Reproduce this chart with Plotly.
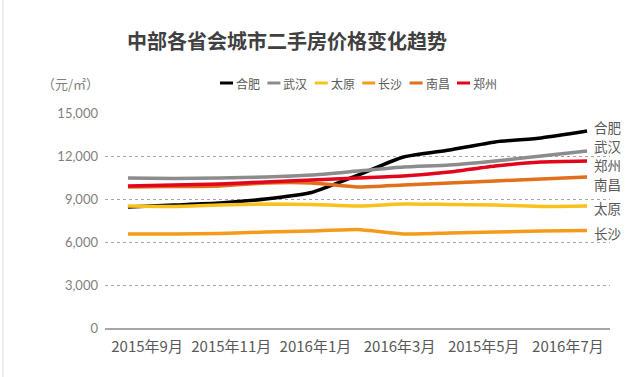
import plotly.graph_objects as go

# ---- data ----
months = ["2015年9月", "2015年10月", "2015年11月", "2015年12月", "2016年1月", "2016年2月",
          "2016年3月", "2016年4月", "2016年5月", "2016年6月", "2016年7月"]
tick_labels = ["2015年9月", "2015年11月", "2016年1月", "2016年3月", "2015年5月", "2016年7月"]

hefei   = [8440, 8580, 8720, 9000, 9450, 10650, 11930, 12420, 12980, 13260, 13740]
wuhan   = [10470, 10430, 10470, 10530, 10670, 10950, 11230, 11370, 11650, 12000, 12350]
taiyuan = [8510, 8480, 8580, 8650, 8620, 8510, 8650, 8620, 8580, 8480, 8510]
changsha = [6560, 6560, 6590, 6700, 6770, 6870, 6560, 6630, 6700, 6770, 6800]
nanchang = [9840, 9870, 9910, 10120, 10120, 9840, 9980, 10120, 10260, 10400, 10540]
zhengzhou = [9910, 9980, 10050, 10190, 10330, 10470, 10600, 10880, 11300, 11580, 11650]

series = [
    ("合肥", hefei, "#000000"),
    ("武汉", wuhan, "#8C8C8C"),
    ("太原", taiyuan, "#F8C21C"),
    ("长沙", changsha, "#F59B1B"),
    ("南昌", nanchang, "#E0701A"),
    ("郑州", zhengzhou, "#E3051B"),
]
label_shift = {"合肥": 4, "武汉": 5, "太原": -2, "长沙": -2, "南昌": -7, "郑州": -4}

CJK = "Noto Sans CJK SC"
W, H = 638, 377
ML, MR, MT, MB = 105, 28, 113, 49
PW, PH = W - ML - MR, H - MT - MB

def px_x(p):
    return (p - ML) / PW

def px_y(p):
    return (H - MB - p) / PH

n = len(months)
xs = list(range(n))

fig = go.Figure()
for name, vals, col in series:
    fig.add_trace(go.Scatter(
        x=xs, y=vals, mode="lines", name=name,
        line=dict(color=col, width=3.5, shape="spline", smoothing=0.5),
        hovertemplate="%{text}<br>%{y:,}<extra>" + name + "</extra>",
        text=months,
    ))

annotations = []
shapes = []
# end labels
for name, vals, col in series:
    annotations.append(dict(
        x=xs[-1], y=vals[-1], xref="x", yref="y", text=name, showarrow=False,
        xanchor="left", yanchor="middle", xshift=6, yshift=label_shift[name],
        borderpad=0,
        font=dict(family=CJK, size=13.5, color="#595959"),
    ))

# custom legend
leg_x0, leg_step, leg_y = 220, 47.4, 83
for i, (name, vals, col) in enumerate(series):
    x0 = leg_x0 + i * leg_step
    shapes.append(dict(type="line", xref="paper", yref="paper",
                       x0=px_x(x0), x1=px_x(x0 + 13), y0=px_y(leg_y), y1=px_y(leg_y),
                       line=dict(color=col, width=3)))
    annotations.append(dict(x=px_x(x0 + 14), y=px_y(leg_y), xref="paper", yref="paper",
                            text=name, showarrow=False, xanchor="left", yanchor="middle",
                            font=dict(family=CJK, size=12, color="#595959")))

# unit label
annotations.append(dict(x=px_x(70), y=px_y(83), xref="paper", yref="paper",
                        text="（元/㎡）", showarrow=False, xanchor="center", yanchor="middle",
                        font=dict(family=CJK, size=13, color="#7F7F7F")))
# title
annotations.append(dict(x=px_x(287), y=px_y(40), xref="paper", yref="paper",
                        text="<b>中部各省会城市二手房价格变化趋势</b>", showarrow=False,
                        xanchor="center", yanchor="middle",
                        font=dict(family=CJK, size=20, color="#404040")))

# left border line of the screenshot
shapes.append(dict(type="line", xref="paper", yref="paper",
                   x0=px_x(3), x1=px_x(3), y0=px_y(0), y1=px_y(H),
                   line=dict(color="#DDDDDD", width=1)))

group = n / len(tick_labels)
tickvals = [-0.5 + (k + 0.5) * group for k in range(len(tick_labels))]

fig.update_layout(
    width=W, height=H,
    margin=dict(l=ML, r=MR, t=MT, b=MB),
    paper_bgcolor="white", plot_bgcolor="white",
    showlegend=False,
    annotations=annotations, shapes=shapes,
    xaxis=dict(range=[-0.5, n - 0.5], tickmode="array", tickvals=tickvals, ticktext=tick_labels,
               showgrid=False, zeroline=False, showline=True, linecolor="#A6A6A6", linewidth=1.5,
               ticks="", ticklabelstandoff=4,
               tickfont=dict(family=CJK, size=15, color="#595959")),
    yaxis=dict(range=[0, 15000], tickmode="array", tickvals=[0, 3000, 6000, 9000, 12000, 15000],
               tickformat=",", showgrid=True, gridcolor="#A6A6A6", griddash="3px,3px", gridwidth=1,
               zeroline=False, showline=False, ticks="", ticklabelstandoff=6,
               tickfont=dict(family="Lato", size=13, color="#7F7F7F")),
)

fig.write_html("out.html", config={"displayModeBar": False},
               post_script="document.body.style.margin='0';document.body.style.overflow='hidden';")
